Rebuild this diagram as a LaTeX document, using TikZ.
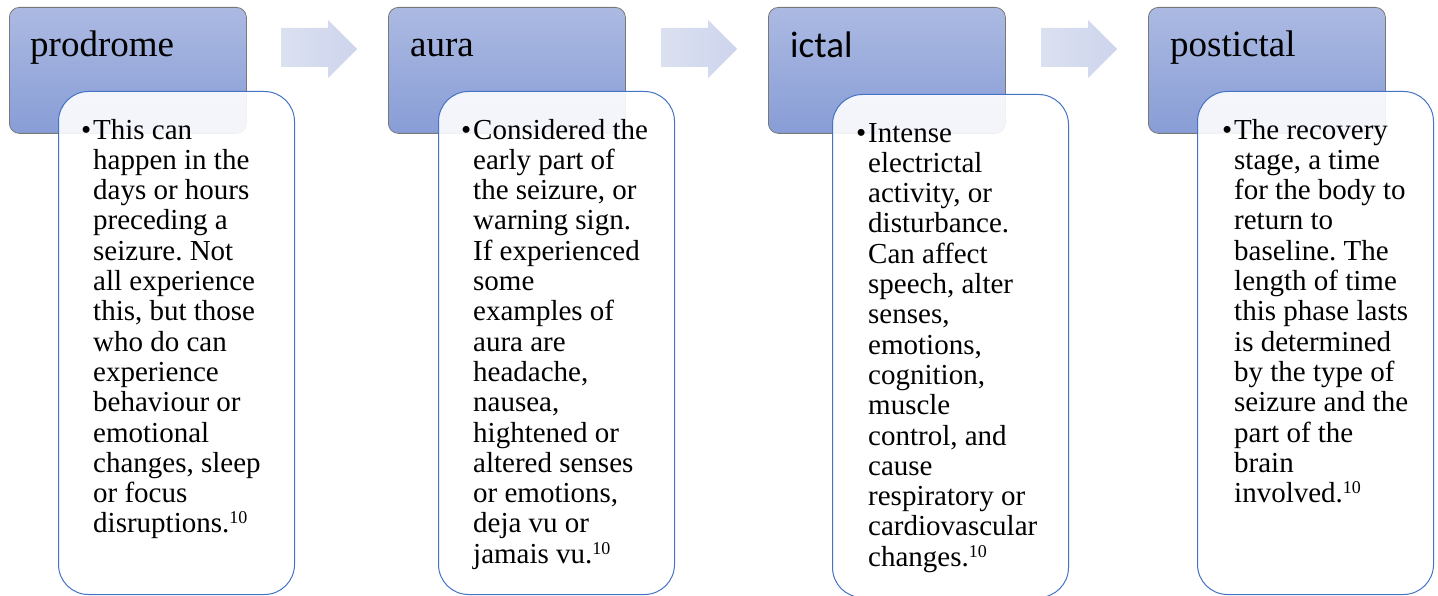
\documentclass[tikz,border=0pt]{standalone}
\usepackage{fontspec}
\setmainfont{Liberation Serif}
\newfontfamily\hsans{Carlito}
\frenchspacing

\definecolor{hdtop}{RGB}{172,186,226}
\definecolor{hdbot}{RGB}{136,157,214}
\definecolor{hdline}{RGB}{120,120,120}
\definecolor{txline}{RGB}{68,114,196}
\definecolor{arrL}{RGB}{220,225,241}
\definecolor{arrR}{RGB}{205,212,236}

\newcommand\refmark[1]{\raisebox{9pt}{\fontsize{18}{18}\selectfont #1}}
\newcommand\bul{\llap{\textbullet\kern2pt}}

\tikzset{
  hdbox/.style={draw=hdline, line width=0.8pt, rounded corners=10pt,
    top color=hdtop, bottom color=hdbot, minimum width=237pt,
    minimum height=126pt, anchor=north west, inner sep=0pt},
  txbox/.style={draw=txline, line width=1pt, rounded corners=30pt,
    fill=white, fill opacity=0.9, minimum width=236pt,
    minimum height=503pt, anchor=north west, inner sep=0pt},
  hdtxt/.style={anchor=base west, inner sep=0pt,
    font=\fontsize{37}{40}\selectfont},
  % the base anchor of a multi-line node sits on its last line
  bodytxt/.style={anchor=base west, inner sep=0pt, align=left,
    font=\fontsize{29}{30.3}\selectfont},
  blockarrow/.style={left color=arrL, right color=arrR, draw=none},
}

\begin{document}
\begin{tikzpicture}[x=1pt, y=-1pt]
\useasboundingbox (0,0) rectangle (1438,596);

% phase headers
\node[hdbox] (h1) at (9,7) {};
\node[hdbox] (h2) at (388,7) {};
\node[hdbox] (h3) at (768,7) {};
\node[hdbox] (h4) at (1148,7) {};

\node[hdtxt] (l1) at (30,57) {prodrome};
\node[hdtxt] (l2) at (410,57) {aura};
\node[hdtxt, font=\hsans\fontsize{37}{40}\selectfont] (l3) at (790,58) {ictal};
\node[hdtxt] (l4) at (1170,57) {postictal};

% block arrows between phases
\foreach \dx in {0,380,760}{
  \path[blockarrow, xshift=\dx pt]
    (281,28) -- (328,28) -- (328,20) -- (357,49) -- (328,78)
    -- (328,67) -- (281,67) -- cycle;
}

% description panels
\node[txbox] (d1) at (58,91) {};
\node[txbox] (d2) at (438,91) {};
\node[txbox] (d3) at (832,94) {};
\node[txbox] (d4) at (1197,91) {};

\node[bodytxt] (b1) at (93,532.9) {\bul This can\\happen in the\\days or hours\\preceding a\\seizure. Not\\all experience\\this, but those\\who do can\\experience\\behaviour or\\emotional\\changes, sleep\\or focus\\disruptions.\refmark{10}};

\node[bodytxt] (b2) at (473,563.2) {\bul Considered the\\early part of\\the seizure, or\\warning sign.\\If experienced\\some\\examples of\\aura are\\headache,\\nausea,\\hightened or\\altered senses\\or emotions,\\deja vu or\\jamais vu.\refmark{10}};

\node[bodytxt] (b3) at (868,566.2) {\bul Intense\\electrictal\\activity, or\\disturbance.\\Can affect\\speech, alter\\senses,\\emotions,\\cognition,\\muscle\\control, and\\cause\\respiratory or\\cardiovascular\\changes.\refmark{10}};

\node[bodytxt] (b4) at (1234,502.6) {\bul The recovery\\stage, a time\\for the body to\\return to\\baseline. The\\length of time\\this phase lasts\\is determined\\by the type of\\seizure and the\\part of the\\brain\\involved.\refmark{10}};
\end{tikzpicture}
\end{document}
